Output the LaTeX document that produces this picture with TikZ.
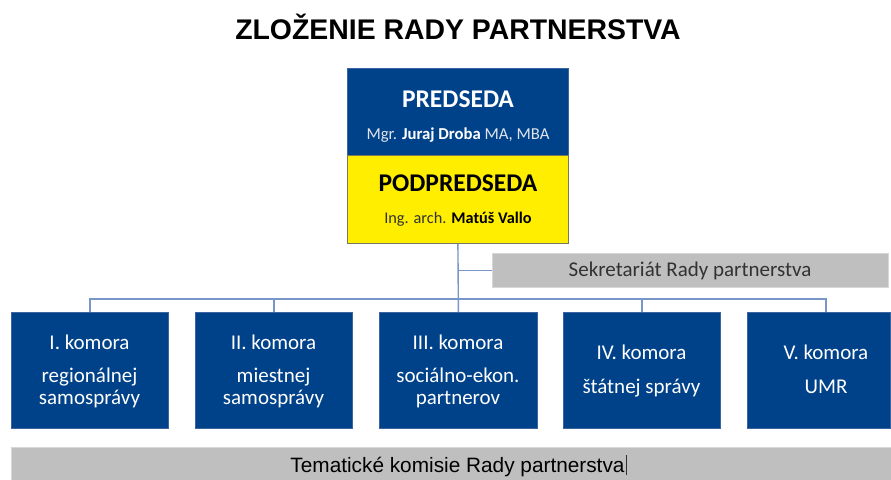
\documentclass[tikz,border=0pt]{standalone}
\usepackage{fontspec}
\setmainfont{Carlito}
\newfontfamily\arial{Liberation Sans}
\definecolor{boxblue}{RGB}{0,66,137}
\definecolor{boxedge}{RGB}{60,100,160}
\definecolor{boxyellow}{RGB}{255,238,0}
\definecolor{yedge}{RGB}{120,120,90}
\definecolor{greybar}{RGB}{191,191,191}
\definecolor{greyedge}{RGB}{215,215,215}
\definecolor{connc}{RGB}{120,150,200}
\definecolor{lightw}{RGB}{225,228,235}
\definecolor{darkg}{RGB}{50,50,50}
\begin{document}
\begin{tikzpicture}[x=1pt,y=-1pt,
  komorabox/.style={draw=boxedge,line width=0.8pt,fill=boxblue,inner sep=0pt,
    minimum height=116pt},
  greybox/.style={draw=greyedge,line width=0.8pt,fill=greybar,inner sep=0pt},
  lbl/.style={inner sep=0pt,anchor=base,text=white,font=\fontsize{21}{25}\selectfont},
  conn/.style={draw=connc,line width=1.4pt}]
\useasboundingbox (0,0) rectangle (891,479);
\fill[white] (0,0) rectangle (891,479);
% title
\node[inner sep=0pt,anchor=base] (title) at (458,39)
  {\arial\bfseries\fontsize{28.4}{32}\selectfont ZLOŽENIE RADY PARTNERSTVA};
% chair boxes
\node[draw=boxedge,line width=0.8pt,fill=boxblue,inner sep=0pt,
  minimum width=221pt,minimum height=87pt,anchor=north west] (pred) at (347,68) {};
\node[draw=yedge,line width=0.8pt,fill=boxyellow,inner sep=0pt,
  minimum width=221pt,minimum height=88pt,anchor=north west] (pod) at (347,155) {};
\node[inner sep=0pt,anchor=base,text=white] (predt) at (458,107)
  {\bfseries\fontsize{25.5}{30}\selectfont PREDSEDA};
\node[inner sep=0pt,anchor=base] (predn) at (458,139)
  {\fontsize{16.7}{20}\selectfont\textcolor{lightw}{Mgr.} \textcolor{white}{\bfseries Juraj Droba} \textcolor{lightw}{MA, MBA}};
\node[inner sep=0pt,anchor=base,text=black] (podt) at (458,191)
  {\bfseries\fontsize{25.5}{30}\selectfont PODPREDSEDA};
\node[inner sep=0pt,anchor=base] (podn) at (458,223)
  {\fontsize{16.3}{20}\selectfont\textcolor{darkg}{Ing. arch.} \textcolor{black}{\bfseries Matúš Vallo}};
% secretariat
\node[greybox,minimum width=396pt,minimum height=34pt,anchor=north west] (sek) at (492,253) {};
\node[inner sep=0pt,anchor=base,text=darkg] (sekt) at (690,276)
  {\fontsize{21}{25}\selectfont Sekretariát Rady partnerstva};
% chambers
\node[komorabox,minimum width=157pt,anchor=north west] (k1) at (11,312) {};
\node[komorabox,minimum width=157pt,anchor=north west] (k2) at (195,312) {};
\node[komorabox,minimum width=158pt,anchor=north west] (k3) at (379,312) {};
\node[komorabox,minimum width=157pt,anchor=north west] (k4) at (563,312) {};
\node[komorabox,minimum width=143pt,anchor=north west] (k5) at (747,312) {};
\coordinate (k5top) at (826,312);
\node[lbl] (k1a) at (89.5,349) {I. komora};
\node[lbl] (k1b) at (89.5,382) {regionálnej};
\node[lbl] (k1c) at (89.5,404) {samosprávy};
\node[lbl] (k2a) at (273.5,349) {II. komora};
\node[lbl] (k2b) at (273.5,382) {miestnej};
\node[lbl] (k2c) at (273.5,404) {samosprávy};
\node[lbl] (k3a) at (458,349) {III. komora};
\node[lbl] (k3b) at (458,382) {sociálno-ekon.};
\node[lbl] (k3c) at (458,404) {partnerov};
\node[lbl] (k4a) at (641.5,359) {IV. komora};
\node[lbl] (k4b) at (641.5,393) {štátnej správy};
\node[lbl] (k5a) at (826,359) {V. komora};
\node[lbl] (k5b) at (826,393) {UMR};
% thematic commissions
\node[greybox,minimum width=880pt,minimum height=34pt,anchor=north west] (tem) at (11,447) {};
\node[inner sep=0pt,anchor=base,text=black] (temt) at (457.5,472)
  {\arial\fontsize{20.8}{24}\selectfont Tematické komisie Rady partnerstva};
\draw[line width=0.6pt,darkg] ([xshift=1.5pt]temt.base east) ++(0,3) -- ++(0,-20);
% connectors
\coordinate (bus) at (458,299);
\draw[conn] (pod.south) -- (k3.north);
\draw[conn] (pod.south |- sek.west) -- (sek.west);
\draw[conn] (k1.north) -- (k1.north |- bus) -- (k5top |- bus) -- (k5top);
\draw[conn] (k2.north) -- (k2.north |- bus);
\draw[conn] (k4.north) -- (k4.north |- bus);
\end{tikzpicture}
\end{document}
